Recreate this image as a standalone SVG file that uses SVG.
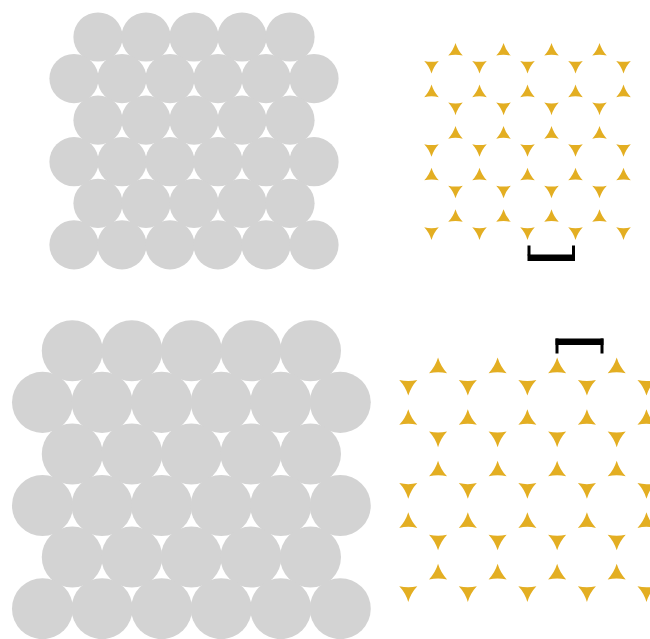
<svg xmlns="http://www.w3.org/2000/svg" xmlns:xlink="http://www.w3.org/1999/xlink" width="650" height="639" viewBox="0 0 650 639">
  <style>
    .disc { fill: #d3d3d3; }
    .void { fill: #e3ae22; }
    .bar { fill: #000000; }
  </style>
  <defs>
    <!-- hexagonal packing, pitch 48, row step 41.57; discs r = 24.6 overlap slightly -->
    <g id="pack">
      <g class="disc">
        <circle cx="98" cy="37" r="24.6"/><circle cx="146" cy="37" r="24.6"/><circle cx="194" cy="37" r="24.6"/><circle cx="242" cy="37" r="24.6"/><circle cx="290" cy="37" r="24.6"/>
        <circle cx="74" cy="78.57" r="24.6"/><circle cx="122" cy="78.57" r="24.6"/><circle cx="170" cy="78.57" r="24.6"/><circle cx="218" cy="78.57" r="24.6"/><circle cx="266" cy="78.57" r="24.6"/><circle cx="314" cy="78.57" r="24.6"/>
        <circle cx="98" cy="120.14" r="24.6"/><circle cx="146" cy="120.14" r="24.6"/><circle cx="194" cy="120.14" r="24.6"/><circle cx="242" cy="120.14" r="24.6"/><circle cx="290" cy="120.14" r="24.6"/>
        <circle cx="74" cy="161.71" r="24.6"/><circle cx="122" cy="161.71" r="24.6"/><circle cx="170" cy="161.71" r="24.6"/><circle cx="218" cy="161.71" r="24.6"/><circle cx="266" cy="161.71" r="24.6"/><circle cx="314" cy="161.71" r="24.6"/>
        <circle cx="98" cy="203.28" r="24.6"/><circle cx="146" cy="203.28" r="24.6"/><circle cx="194" cy="203.28" r="24.6"/><circle cx="242" cy="203.28" r="24.6"/><circle cx="290" cy="203.28" r="24.6"/>
        <circle cx="74" cy="244.85" r="24.6"/><circle cx="122" cy="244.85" r="24.6"/><circle cx="170" cy="244.85" r="24.6"/><circle cx="218" cy="244.85" r="24.6"/><circle cx="266" cy="244.85" r="24.6"/><circle cx="314" cy="244.85" r="24.6"/>
      </g>
    </g>
    <!-- interstitial void between three neighbouring discs, centred on its centroid -->
    <path id="up" d="M0,-8.4 A32,32 0 0 1 -7.27,4.2 A32,32 0 0 1 7.27,4.2 A32,32 0 0 1 0,-8.4 Z"/>
    <path id="dn" d="M0,8.4 A32,32 0 0 0 -7.27,-4.2 A32,32 0 0 0 7.27,-4.2 A32,32 0 0 0 0,8.4 Z"/>
    <!-- all 45 voids of the packing above -->
    <g id="voids">
      <use xlink:href="#up" x="122" y="50.86"/><use xlink:href="#up" x="170" y="50.86"/><use xlink:href="#up" x="218" y="50.86"/><use xlink:href="#up" x="266" y="50.86"/>
      <use xlink:href="#dn" x="98" y="64.71"/><use xlink:href="#dn" x="146" y="64.71"/><use xlink:href="#dn" x="194" y="64.71"/><use xlink:href="#dn" x="242" y="64.71"/><use xlink:href="#dn" x="290" y="64.71"/>
      <use xlink:href="#up" x="98" y="92.43"/><use xlink:href="#up" x="146" y="92.43"/><use xlink:href="#up" x="194" y="92.43"/><use xlink:href="#up" x="242" y="92.43"/><use xlink:href="#up" x="290" y="92.43"/>
      <use xlink:href="#dn" x="122" y="106.28"/><use xlink:href="#dn" x="170" y="106.28"/><use xlink:href="#dn" x="218" y="106.28"/><use xlink:href="#dn" x="266" y="106.28"/>
      <use xlink:href="#up" x="122" y="134"/><use xlink:href="#up" x="170" y="134"/><use xlink:href="#up" x="218" y="134"/><use xlink:href="#up" x="266" y="134"/>
      <use xlink:href="#dn" x="98" y="147.85"/><use xlink:href="#dn" x="146" y="147.85"/><use xlink:href="#dn" x="194" y="147.85"/><use xlink:href="#dn" x="242" y="147.85"/><use xlink:href="#dn" x="290" y="147.85"/>
      <use xlink:href="#up" x="98" y="175.57"/><use xlink:href="#up" x="146" y="175.57"/><use xlink:href="#up" x="194" y="175.57"/><use xlink:href="#up" x="242" y="175.57"/><use xlink:href="#up" x="290" y="175.57"/>
      <use xlink:href="#dn" x="122" y="189.42"/><use xlink:href="#dn" x="170" y="189.42"/><use xlink:href="#dn" x="218" y="189.42"/><use xlink:href="#dn" x="266" y="189.42"/>
      <use xlink:href="#up" x="122" y="217.14"/><use xlink:href="#up" x="170" y="217.14"/><use xlink:href="#up" x="218" y="217.14"/><use xlink:href="#up" x="266" y="217.14"/>
      <use xlink:href="#dn" x="98" y="230.99"/><use xlink:href="#dn" x="146" y="230.99"/><use xlink:href="#dn" x="194" y="230.99"/><use xlink:href="#dn" x="242" y="230.99"/><use xlink:href="#dn" x="290" y="230.99"/>
    </g>
  </defs>

  <rect width="650" height="639" fill="#ffffff"/>

  <!-- upper row: small discs and their voids -->
  <g id="packing-small">
    <use xlink:href="#pack"/>
  </g>
  <g id="voids-small" class="void">
    <use xlink:href="#voids" transform="translate(333.5,0.5)"/>
  </g>
  <g id="scale-bar-small" class="bar">
    <rect x="527.5" y="254.5" width="47.5" height="6.5"/>
    <rect x="527.5" y="245.5" width="3" height="10"/>
    <rect x="572" y="245.5" width="3" height="10"/>
  </g>

  <!-- lower row: same lattice enlarged by 1.2406 -->
  <g id="packing-large">
    <use xlink:href="#pack" transform="translate(-49.3,304.9) scale(1.2406)"/>
  </g>
  <g id="voids-large" class="void">
    <use xlink:href="#voids" transform="translate(286.7,304.9) scale(1.2406)"/>
  </g>
  <g id="scale-bar-large" class="bar">
    <rect x="555.5" y="338.5" width="48" height="6.5"/>
    <rect x="555.5" y="338.5" width="3" height="15"/>
    <rect x="600.5" y="338.5" width="3" height="15"/>
  </g>
</svg>
